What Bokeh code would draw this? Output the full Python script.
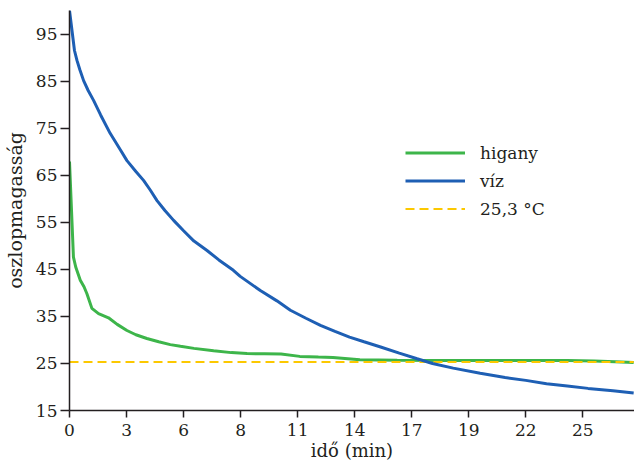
from bokeh.plotting import figure
from bokeh.models import FixedTicker, Legend, LegendItem
from bokeh.embed import file_html
from bokeh.resources import INLINE

# ---- data ----
viz_t = [0, 0.24, 0.36, 0.5, 0.68, 0.9, 1.16, 1.5, 1.96, 2.45, 2.77, 3.2, 3.57, 3.9,
         4.22, 4.6, 5.02, 5.5, 6.0, 6.63, 7.2, 7.9, 8.23, 9.2, 10.0, 10.65, 11.4,
         12.1, 12.8, 13.5, 14.2, 15.0, 15.9, 16.76, 17.5, 18.5, 19.8, 21.0, 22.0,
         23.0, 24.0, 25.0, 26.2, 27.2]
viz_v = [100, 91.5, 89.4, 87.4, 85.1, 83.0, 80.9, 77.8, 73.9, 70.4, 68.1, 65.8, 63.9,
         61.8, 59.6, 57.5, 55.4, 53.2, 51.0, 49.0, 47.0, 44.8, 43.5, 40.5, 38.3, 36.3,
         34.6, 33.1, 31.8, 30.6, 29.6, 28.5, 27.2, 26.0, 25.0, 24.0, 22.9, 22.0, 21.4,
         20.7, 20.2, 19.7, 19.2, 18.7]

higany_t = [0, 0.19, 0.3, 0.52, 0.7, 0.84, 1.08, 1.4, 1.88, 2.3, 2.77, 3.2, 3.73, 4.3,
            4.86, 5.35, 6.0, 6.95, 7.8, 8.56, 9.4, 10.2, 11.1, 12.0, 12.7, 14.0, 15.8,
            18.0, 20.0, 22.0, 24.0, 25.3, 26.3, 27.2]
higany_v = [67.9, 47.6, 45.5, 42.7, 41.3, 39.8, 36.7, 35.6, 34.7, 33.3, 32.0, 31.1, 30.3,
            29.6, 29.0, 28.65, 28.2, 27.7, 27.3, 27.1, 27.05, 27.0, 26.5, 26.35, 26.25,
            25.8, 25.7, 25.6, 25.6, 25.6, 25.6, 25.5, 25.35, 25.2]

ref_temp = 25.3
ref_label = "25,3 °C"

x_ticks = [0, 2.75, 5.5, 8.25, 11, 13.75, 16.5, 19.25, 22, 24.75]
x_tick_labels = ["0", "3", "6", "8", "11", "14", "17", "19", "22", "25"]
y_ticks = [15, 25, 35, 45, 55, 65, 75, 85, 95]

GREEN = "#3db54a"
BLUE = "#1e5fb4"
YELLOW = "#fcc800"
INK = "#231f20"
FONT = "DejaVu Serif"
FS = "17px"

p = figure(width=634, height=469, output_backend="svg", toolbar_location=None,
           x_range=(0, 27.24), y_range=(15, 100),
           min_border_left=69, min_border_right=0, min_border_top=10, min_border_bottom=59)
p.outline_line_color = None
p.xgrid.grid_line_color = None
p.ygrid.grid_line_color = None
p.background_fill_color = "white"
p.border_fill_color = "white"

for ax in (p.xaxis[0], p.yaxis[0]):
    ax.axis_line_color = INK
    ax.axis_line_width = 1.5
    ax.major_tick_line_color = INK
    ax.major_tick_line_width = 1.5
    ax.major_tick_in = 0
    ax.major_tick_out = 7
    ax.minor_tick_line_color = None
    ax.major_label_text_font = FONT
    ax.major_label_text_font_size = FS
    ax.major_label_text_color = INK
    ax.axis_label_text_font = FONT
    ax.axis_label_text_font_style = "normal"
    ax.axis_label_text_color = INK

p.xaxis[0].ticker = FixedTicker(ticks=x_ticks)
p.xaxis[0].major_label_overrides = {t: l for t, l in zip(x_ticks, x_tick_labels)}
p.xaxis[0].major_label_standoff = 6
p.xaxis[0].axis_label = "idő (min)"
p.xaxis[0].axis_label_text_font_size = "18px"
p.xaxis[0].axis_label_standoff = 1

p.yaxis[0].ticker = FixedTicker(ticks=y_ticks)
p.yaxis[0].major_tick_out = 9
p.yaxis[0].major_label_standoff = 3
p.yaxis[0].axis_label = "oszlopmagasság"
p.yaxis[0].axis_label_text_font_size = "19px"
p.yaxis[0].axis_label_standoff = 7

r_hg = p.line(higany_t, higany_v, line_color=GREEN, line_width=3)
t_all = viz_t + higany_t
r_ref = p.line([min(t_all), max(t_all)], [ref_temp, ref_temp], line_color=YELLOW,
               line_width=2, line_dash="9 5")
r_viz = p.line(viz_t, viz_v, line_color=BLUE, line_width=3)

legend = Legend(items=[LegendItem(label="higany", renderers=[r_hg]),
                       LegendItem(label="víz", renderers=[r_viz]),
                       LegendItem(label=ref_label, renderers=[r_ref])],
                location=(336, 188), padding=0, margin=0, spacing=1,
                glyph_width=60, glyph_height=27, label_height=27, label_standoff=15,
                border_line_color=None, background_fill_alpha=0,
                label_text_font=FONT, label_text_font_size=FS, label_text_color=INK)
p.add_layout(legend, "center")

open("out.html", "w").write(file_html(p, INLINE))
